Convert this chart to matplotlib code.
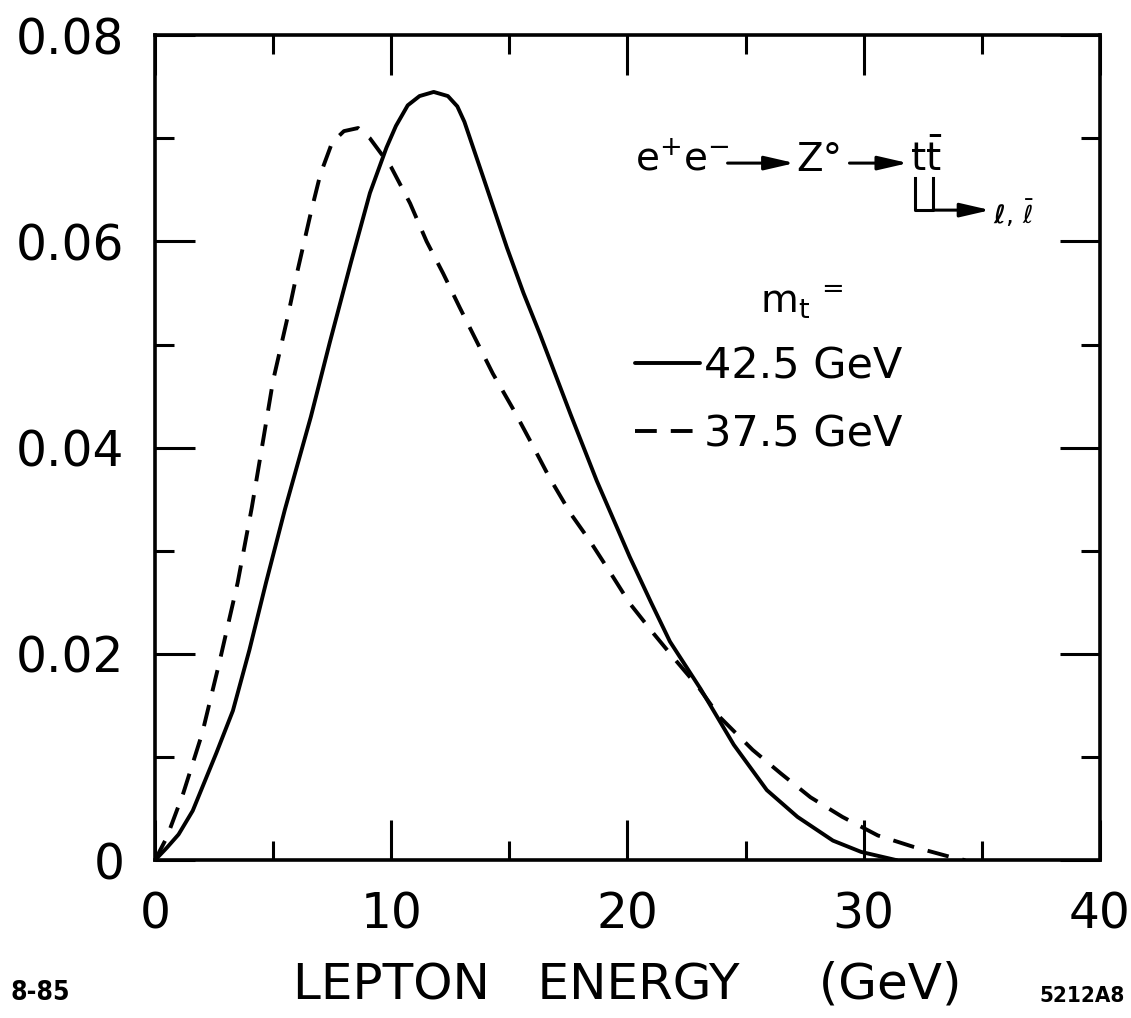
import matplotlib
matplotlib.use("Agg")
import matplotlib.pyplot as plt
from matplotlib.lines import Line2D

plt.rcParams['font.family'] = ['DejaVu Sans']
plt.rcParams['mathtext.fontset'] = 'dejavusans'

# lepton energy spectrum, m_t = 42.5 GeV (solid)
solid_x = [0, 0.5, 1.0, 1.6, 2.6, 3.3, 4.0, 4.7, 5.5, 6.6, 7.4, 8.3, 9.1, 9.8,
           10.2, 10.7, 11.2, 11.8, 12.4, 12.8, 13.1, 13.9, 14.9, 15.6, 16.3,
           17.6, 18.7, 20.1, 21.0, 21.8, 23.1, 24.5, 25.9, 27.2, 28.7, 29.9,
           31.4]
solid_y = [0, 0.0012, 0.0025, 0.0048, 0.0104, 0.0145, 0.0204, 0.0269, 0.0340,
           0.0430, 0.0502, 0.0580, 0.0647, 0.0691, 0.0712, 0.0732, 0.0741,
           0.0745, 0.0741, 0.0731, 0.0716, 0.0662, 0.0594, 0.0550, 0.0510,
           0.0432, 0.0368, 0.0294, 0.0250, 0.0212, 0.0166, 0.0112, 0.0068,
           0.0042, 0.0019, 0.0008, 0.0]

# m_t = 37.5 GeV (dashed)
dash_x = [0, 0.5, 1.2, 2.0, 2.75, 3.5, 4.1, 4.6, 5.0, 5.6, 6.0, 6.6, 7.0, 7.5,
          8.0, 8.6, 9.1, 10.0, 10.8, 11.5, 12.2, 12.9, 13.6, 14.3, 15.2, 15.9,
          16.7, 17.6, 18.4, 19.3, 20.1, 21.1, 22.0, 23.0, 23.9, 25.3, 26.5,
          27.75, 29.1, 30.6, 32.1, 33.7, 34.3]
dash_y = [0, 0.0022, 0.0065, 0.0123, 0.0194, 0.0269, 0.0342, 0.0410, 0.0465,
          0.0525, 0.0568, 0.0628, 0.0665, 0.0696, 0.0707, 0.0710, 0.0700,
          0.0672, 0.0637, 0.0600, 0.0569, 0.0536, 0.0504, 0.0472, 0.0436,
          0.0406, 0.0371, 0.0336, 0.0310, 0.0278, 0.0249, 0.0220, 0.0195,
          0.0168, 0.0139, 0.0107, 0.0084, 0.0061, 0.0042, 0.0024, 0.0013,
          0.0003, 0]

x_ticks = [0, 10, 20, 30, 40]
x_ticklabels = ['0', '10', '20', '30', '40']
y_ticks = [0, 0.02, 0.04, 0.06, 0.08]
y_ticklabels = ['0', '0.02', '0.04', '0.06', '0.08']
labels = ['42.5 GeV', '37.5 GeV']

fig = plt.figure(figsize=(11.31, 10.18), dpi=100)
ax = fig.add_axes([0.137, 0.155, 0.8355, 0.8104])

lw = 2.8
l1, = ax.plot(solid_x, solid_y, color='black', lw=lw, solid_capstyle='round',
              solid_joinstyle='round')
l2, = ax.plot(dash_x, dash_y, color='black', lw=lw, dashes=(5.6, 3.6))

ax.set_xlim(0, 40)
ax.set_ylim(0, 0.08)
ax.set_xticks(x_ticks)
ax.set_xticklabels(x_ticklabels)
ax.set_yticks(y_ticks)
ax.set_yticklabels(y_ticklabels)
ax.set_xticks([5, 15, 25, 35], minor=True)
ax.set_yticks([0.01, 0.03, 0.05, 0.07], minor=True)

ax.tick_params(which='both', direction='in', top=True, right=True,
               width=2.2, color='black')
ax.tick_params(which='major', length=29, labelsize=35)
ax.tick_params(which='minor', length=14)
ax.tick_params(axis='y', which='major', pad=22)
ax.tick_params(axis='x', which='major', pad=22)
for sp in ax.spines.values():
    sp.set_linewidth(2.6)

ax.set_xlabel('LEPTON   ENERGY     (GeV)', fontsize=36, labelpad=16)

# reaction label
fs = 28
ax.text(0.508, 0.836, r'$\mathregular{e^{+}e^{-}}$', transform=ax.transAxes,
        fontsize=fs, ha='left', va='baseline')
ax.text(0.679, 0.836, 'Z°', transform=ax.transAxes,
        fontsize=fs, ha='left', va='baseline')
ax.text(0.799, 0.836, r'$\mathregular{t\bar{t}}$', transform=ax.transAxes,
        fontsize=fs, ha='left', va='baseline')
arrow = dict(arrowstyle='-|>,head_length=1.3,head_width=0.3',
             color='black', lw=2.2, mutation_scale=14, shrinkA=0, shrinkB=0)
ax.annotate('', xy=(0.677, 0.845), xytext=(0.606, 0.845),
            xycoords='axes fraction', arrowprops=arrow)
ax.annotate('', xy=(0.797, 0.845), xytext=(0.735, 0.845),
            xycoords='axes fraction', arrowprops=arrow)
ax.add_line(Line2D([0.804, 0.804, 0.823, 0.823], [0.827, 0.788, 0.788, 0.827],
                   transform=ax.transAxes, color='black', lw=2.2))
ax.annotate('', xy=(0.884, 0.788), xytext=(0.823, 0.788),
            xycoords='axes fraction', arrowprops=arrow)
ax.text(0.887, 0.784, r'$\boldsymbol{\ell},\,\boldsymbol{\bar{\ell}}$',
        transform=ax.transAxes, fontsize=18, ha='left', va='center')

ax.text(0.64, 0.664, r'$\mathregular{m_t\,^{=}}$', transform=ax.transAxes,
        fontsize=fs, ha='left', va='baseline')

ax.legend([l1, l2], labels, loc='upper left', bbox_to_anchor=(0.508, 0.624),
          frameon=False, fontsize=31, handlelength=1.5, handletextpad=0.1,
          labelspacing=0.6, borderpad=0, borderaxespad=0)

fig.text(10 / 1131, 1 - 1000 / 1018, '8-85', fontsize=19, fontweight='bold',
         fontstretch='condensed', ha='left', va='baseline')
fig.text(1125 / 1131, 1 - 1002 / 1018, '5212A8', fontsize=16, fontweight='bold',
         fontstretch='condensed', ha='right', va='baseline')

fig.savefig('out.png', dpi=100, facecolor='white')
